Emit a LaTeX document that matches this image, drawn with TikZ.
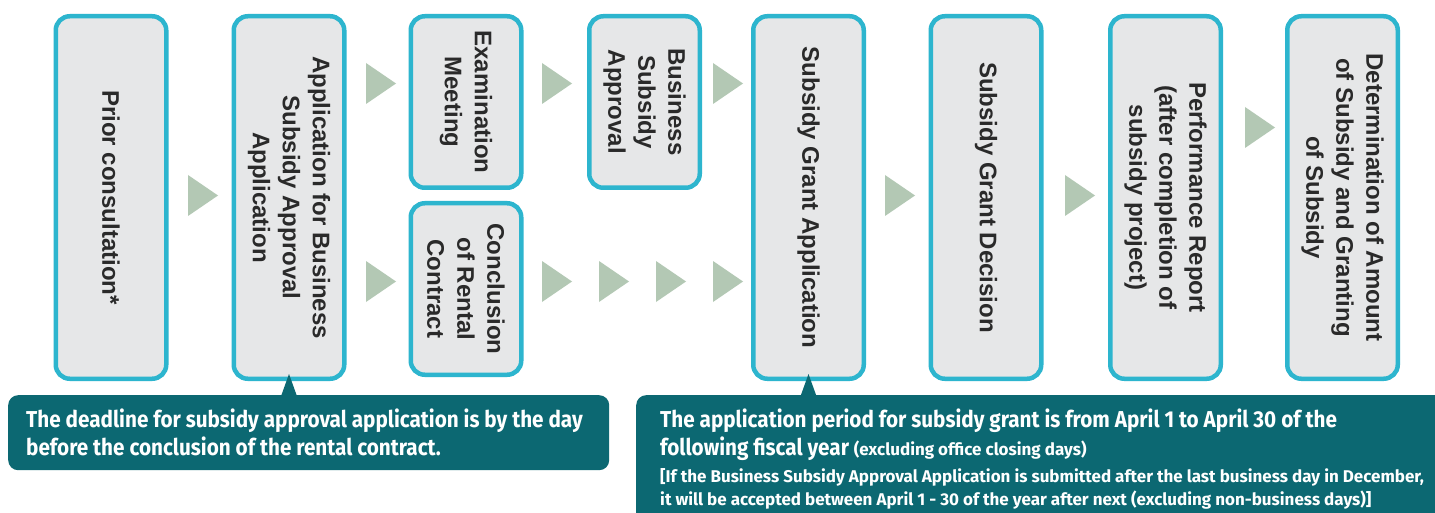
\documentclass[tikz,border=0pt]{standalone}
\usepackage{fontspec}
\setmainfont{Liberation Sans}
\newfontfamily\boxfont{Liberation Sans}
\newfontfamily\condfont[FakeStretch=0.9]{Fira Sans}
\newfontfamily\condsmallfont{Fira Sans}
\usetikzlibrary{calc}
\definecolor{cyanb}{HTML}{2DB5CE}
\definecolor{boxgray}{HTML}{E6E7E8}
\definecolor{txt}{HTML}{2A2A2A}
\definecolor{arrowc}{HTML}{B3C8B4}
\definecolor{tealc}{HTML}{0C6872}
\begin{document}
\begin{tikzpicture}[x=1pt,y=-1pt,
  stepbox/.style={draw=cyanb, line width=4.5pt, fill=boxgray, rounded corners=14pt,
    rotate=-90, inner sep=0pt, align=center, text=txt,
    font=\boxfont\bfseries\fontsize{24}{30}\selectfont, minimum height=110.5pt},
  tall/.style={minimum width=362.5pt},
  short/.style={minimum width=171.5pt},
  calloutbox/.style={fill=tealc, rounded corners=10pt, inner sep=0pt, anchor=north west},
  ctext/.style={anchor=base west, inner sep=0pt, text=white, font=\condfont\bfseries\fontsize{23}{28}\selectfont},
  csmall/.style={anchor=base west, inner sep=0pt, text=white, font=\condsmallfont\bfseries\fontsize{17}{22}\selectfont},
  tri/.pic={\fill[arrowc] (0,-20.5) -- (30,0) -- (0,20.5) -- cycle;}
]
\clip (0,0) rectangle (1435,513);
\fill[white] (0,0) rectangle (1435,513);

% boxes
\node[stepbox, tall]  (b1) at (111,197.5) {Prior consultation*};
\node[stepbox, tall]  (b2) at (289,197.5) {Application for Business\\Subsidy Approval\\Application};
\node[stepbox, short] (b3) at (466,102) {Examination\\Meeting};
\node[stepbox, short] (b4) at (466,289) {Conclusion\\of Rental\\Contract};
\node[stepbox, short] (b5) at (644.5,102) {Business\\Subsidy\\Approval};
\node[stepbox, tall]  (b6) at (808.5,197.5) {Subsidy Grant Application};
\node[stepbox, tall]  (b7) at (986,197.5) {Subsidy Grant Decision};
\node[stepbox, tall]  (b8) at (1165.5,197.5) {Performance Report\\(after completion of\\subsidy project)};
\node[stepbox, tall]  (b9) at (1342.5,197.5) {Determination of Amount\\of Subsidy and Granting\\of Subsidy};

% flow markers
\pic at (188,195.5) {tri};
\pic at (366,83.5) {tri};
\pic at (542,83.5) {tri};
\pic at (713,83.5) {tri};
\pic at (366,281.5) {tri};
\pic at (542,281.5) {tri};
\pic at (599,281.5) {tri};
\pic at (656,281.5) {tri};
\pic at (713,281.5) {tri};
\pic at (885,195.5) {tri};
\pic at (1065,195.5) {tri};
\pic at (1245,127.5) {tri};

% callouts
\node[calloutbox, minimum width=601pt, minimum height=75pt] (c1) at (8,395) {};
\fill[tealc] ($(b2.east)+(0,-7)$) -- ($(b2.east)+(-9,18)$) -- ($(b2.east)+(9,18)$) -- cycle;
\node[ctext] (t1) at (26,427) {The deadline for subsidy approval application is by the day};
\node[ctext] (t2) at (26,455) {before the conclusion of the rental contract.};

\node[calloutbox, minimum width=830pt, minimum height=140pt] (c2) at (636,395) {};
\fill[tealc] ($(b6.east)+(0,-7)$) -- ($(b6.east)+(-9,18)$) -- ($(b6.east)+(9,18)$) -- cycle;
\node[ctext] (t3) at (660,427) {The application period for subsidy grant is from April 1 to April 30 of the};
\node[ctext] (t4) at (660,455) {following fiscal year {\condsmallfont\fontsize{17}{22}\selectfont(excluding office closing days)}};
\node[csmall] (t5) at (660,482) {[If the Business Subsidy Approval Application is submitted after the last business day in December,};
\node[csmall] (t6) at (660,505) {it will be accepted between April 1 - 30 of the year after next (excluding non-business days)]};
\end{tikzpicture}
\end{document}
